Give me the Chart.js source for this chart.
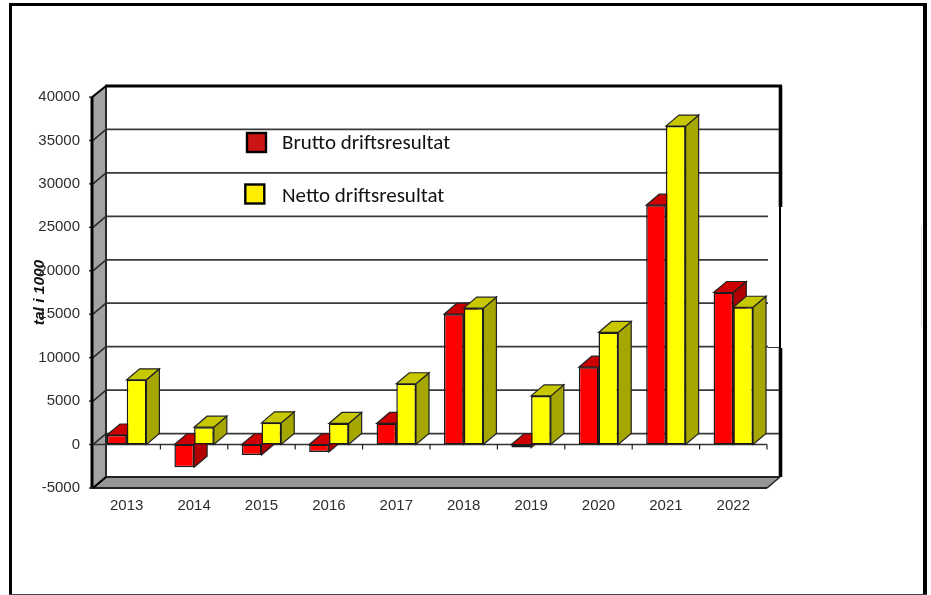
<!DOCTYPE html>
<html>
<head>
<meta charset="utf-8">
<style>html,body{margin:0;padding:0;background:#fff}canvas{display:block;filter:blur(0.3px)}</style>
<script src="https://cdn.jsdelivr.net/npm/chart.js@4"></script>
</head>
<body>
<canvas id="c" width="931" height="595"></canvas>
<script>
const categories = ['2013','2014','2015','2016','2017','2018','2019','2020','2021','2022'];
const bruttoValues = [1100,-2600,-1200,-850,2430,15000,-350,8900,27550,17500];
const nettoValues = [7450,2000,2500,2430,7000,15700,5600,12900,36650,15800];
const seriesNames = ['Brutto driftsresultat','Netto driftsresultat'];
const axisTitle = 'tal i 1000';
const yMin = -5000, yMax = 40000, yStep = 5000;

const DX = 13, DY = -11;
const LINE = '#2a2a2a';

function poly(ctx, pts, fill, stroke, lw){
  ctx.beginPath();
  pts.forEach((p,i)=> i ? ctx.lineTo(p[0],p[1]) : ctx.moveTo(p[0],p[1]));
  ctx.closePath();
  if(fill){ctx.fillStyle=fill;ctx.fill();}
  if(stroke){ctx.strokeStyle=stroke;ctx.lineWidth=lw||1;ctx.lineJoin='miter';ctx.stroke();}
}
function seg(ctx,x1,y1,x2,y2,color,lw){
  ctx.beginPath();ctx.moveTo(x1,y1);ctx.lineTo(x2,y2);
  ctx.strokeStyle=color;ctx.lineWidth=lw;ctx.lineCap='butt';ctx.stroke();
}

const frame = {
  id:'frame',
  beforeDraw(chart){
    const c=chart.ctx;
    c.save();
    c.fillStyle='#fff';c.fillRect(0,0,931,595);
    c.fillStyle='#000';
    c.fillRect(9,3,918,3);
    c.fillRect(9,3,3,592);
    c.fillRect(923,3,4,592);
    c.fillStyle='#444';
    c.fillRect(9,594,918,1);
    c.fillStyle='#ddd';
    c.fillRect(921,225,1,102);
    c.restore();
  }
};

const walls = {
  id:'walls',
  beforeDatasetsDraw(chart){
    const c=chart.ctx, y=chart.scales.y, x=chart.scales.x;
    const L=x.left, R=x.right, T=y.getPixelForValue(yMax), B=y.getPixelForValue(yMin), Z=y.getPixelForValue(0);
    c.save();
    poly(c,[[L,T],[L+DX,T+DY],[L+DX,B+DY],[L,B]],'#a3a3a3',null);
    poly(c,[[L,B],[L+DX,B+DY],[R+DX,B+DY],[R,B]],'#969696',null);
    for(let v=yMin;v<=yMax;v+=yStep){
      const py=y.getPixelForValue(v);
      seg(c,L-4,py,L,py,LINE,1.4);
      seg(c,L,py,L+DX,py+DY,LINE,1.6);
      if(v>yMin && v<yMax) seg(c,L+DX,py+DY,R+DX,py+DY,'#3a3a3a',1.7);
    }
    seg(c,L+DX,T+DY,L+DX,B+DY,LINE,2);
    seg(c,L+DX-1,T+DY,R+DX+2,T+DY,'#000',3);
    seg(c,R+DX+0.5,T+DY,R+DX+0.5,B+DY,'#000',3.6);
    seg(c,L+DX,B+DY,R+DX,B+DY,'#222',2);
    c.fillStyle='#fff';c.fillRect(R+1,207,R+DX+3-(R+1),141);
    c.fillStyle='#000';c.fillRect(R+DX-1,202,2,146);
    c.fillStyle='#333';c.fillRect(R+1,347,R+DX-1-(R+1),1);
    seg(c,L-1,T,L-1,B+1,'#000',3);
    seg(c,L-1,T,L+DX,T+DY,'#000',1.6);
    seg(c,L-2,B,R,B,'#222',2);
    seg(c,R,B,R+DX,B+DY,'#222',1.6);
    seg(c,L,B,L+DX,B+DY,'#000',2);
    seg(c,L,Z,R,Z,'#333',1.6);
    for(let i=0;i<=categories.length;i++){
      const tx=L+(R-L)*i/categories.length;
      if(i>0) seg(c,tx,Z,tx,Z+5,'#222',1.2);
    }
    const faces=[['#cc0000','#b00000'],['#c8c800','#a6a600']];
    chart.getSortedVisibleDatasetMetas().slice().sort((a,b)=>a.index-b.index).forEach(m=>{
      m.data.forEach(b=>{
        const hw=b.width/2, lx=b.x-hw, rx=b.x+hw, top=Math.min(b.y,b.base), bot=Math.max(b.y,b.base);
        poly(c,[[rx,top],[rx+DX,top+DY],[rx+DX,bot+DY],[rx,bot]],faces[m.index][1],'#222',1.2);
        poly(c,[[lx,top],[lx+DX,top+DY],[rx+DX,top+DY],[rx,top]],faces[m.index][0],'#222',1.2);
      });
    });
    c.restore();
  }
};

const legendBoxes = {
  id:'legendBoxes',
  afterDatasetsDraw(chart){
    const c=chart.ctx;
    c.save();
    const rows=[[247,133,'#cc1414',282,144],[245.3,184.5,'#ffee00',282,197]];
    rows.forEach((r,i)=>{
      c.fillStyle=r[2];c.fillRect(r[0],r[1],19,19);
      c.strokeStyle='#000';c.lineWidth=2.4;c.strokeRect(r[0],r[1],19,19);
      c.fillStyle='#111';c.font='21px Carlito, Lato, sans-serif';
      c.textBaseline='middle';c.textAlign='left';
      c.fillText(seriesNames[i],r[3],r[4]);
    });
    c.restore();
  }
};

new Chart(document.getElementById('c'),{
  type:'bar',
  data:{labels:categories,datasets:[
    {label:seriesNames[0],data:bruttoValues,backgroundColor:'#ff0000',borderColor:'#1a1a1a',borderWidth:1.5,borderSkipped:false},
    {label:seriesNames[1],data:nettoValues,backgroundColor:'#ffff00',borderColor:'#1a1a1a',borderWidth:1.5,borderSkipped:false}
  ]},
  options:{
    responsive:false,animation:false,
    layout:{padding:{top:97,right:164,left:0,bottom:0}},
    plugins:{legend:{display:false},title:{display:false},tooltip:{enabled:false}},
    categoryPercentage:0.585,barPercentage:1,
    scales:{
      x:{
        grid:{display:false,drawTicks:false},border:{display:false},
        afterFit(s){s.height=107;},
        ticks:{color:'#2e2e2e',font:{family:'Liberation Sans',size:15},padding:9,maxRotation:0},
      },
      y:{
        min:yMin,max:yMax,
        grid:{display:false,drawTicks:false},border:{display:false},
        afterFit(s){s.width=93;},
        ticks:{stepSize:yStep,color:'#2e2e2e',font:{family:'Liberation Sans',size:15},padding:13,callback:v=>String(v)},
        title:{display:true,text:axisTitle,color:'#111',font:{family:'Liberation Sans',size:15.5,style:'italic',weight:'bold'},padding:{top:30,bottom:0}}
      }
    }
  },
  plugins:[frame,walls,legendBoxes]
});
</script>
</body>
</html>
